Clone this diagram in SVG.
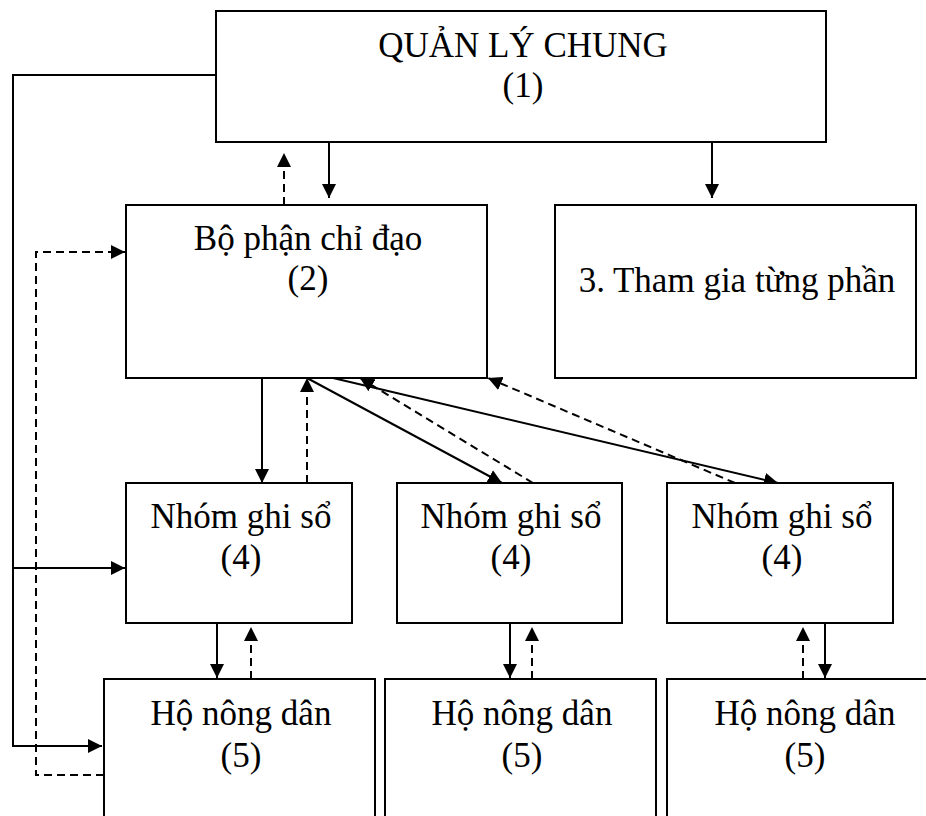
<svg xmlns="http://www.w3.org/2000/svg" width="926" height="816" viewBox="0 0 926 816">
<style>
.box{fill:#fff;stroke:#000;stroke-width:2}
.t{font-family:"Liberation Serif","Times New Roman",serif;font-size:35px;fill:#000;text-anchor:middle}
.s{fill:none;stroke:#000;stroke-width:2}
.d{fill:none;stroke:#000;stroke-width:2;stroke-dasharray:8 5}
.a{marker-end:url(#arr)}
</style>
<defs>
<marker id="arr" viewBox="0 0 14 14" refX="14" refY="7" markerWidth="14" markerHeight="14" markerUnits="userSpaceOnUse" orient="auto">
<path d="M0,0 L14,7 L0,14 z" fill="#000" stroke="none"/>
</marker>
</defs>
<rect width="926" height="816" fill="#fff"/>
<g id="connectors">
<polyline class="s" points="216,75 13,75 13,746 102,746" marker-end="url(#arr)"/>
<line class="s a" x1="13" y1="568" x2="125" y2="568"/>
<polyline class="d" points="104,775 36,775 36,252 125,252" marker-end="url(#arr)"/>
<line class="d a" x1="284" y1="205" x2="284" y2="153"/>
<line class="s a" x1="329" y1="143" x2="329" y2="198"/>
<line class="s a" x1="712" y1="143" x2="712" y2="198"/>
<line class="s a" x1="262" y1="378" x2="262" y2="483"/>
<line class="d a" x1="307" y1="483" x2="307" y2="378"/>
<line class="s a" x1="307" y1="378" x2="502" y2="483"/>
<line class="d a" x1="533" y1="483" x2="360" y2="378"/>
<line class="s a" x1="333" y1="378" x2="778" y2="483"/>
<line class="d a" x1="735" y1="483" x2="488" y2="378"/>
<line class="s a" x1="217" y1="623" x2="217" y2="678"/>
<line class="d a" x1="251" y1="679" x2="251" y2="627"/>
<line class="s a" x1="510" y1="623" x2="510" y2="678"/>
<line class="d a" x1="532" y1="679" x2="532" y2="627"/>
<line class="d a" x1="803" y1="679" x2="803" y2="627"/>
<line class="s a" x1="825" y1="623" x2="825" y2="678"/>
</g>
<g id="n1">
<rect class="box" x="216" y="11" width="610" height="131"/>
<text class="t" x="523" y="57">QUẢN LÝ CHUNG</text>
<text class="t" x="523" y="97">(1)</text>
</g>
<g id="n2">
<rect class="box" x="126" y="205" width="361" height="173"/>
<text class="t" x="308" y="250">Bộ phận chỉ đạo</text>
<text class="t" x="308" y="290">(2)</text>
</g>
<g id="n3">
<rect class="box" x="555" y="205" width="361" height="173"/>
<text class="t" x="737" y="292">3. Tham gia từng phần</text>
</g>
<g id="n4a">
<rect class="box" x="126" y="483" width="226" height="140"/>
<text class="t" x="241" y="528">Nhóm ghi sổ</text>
<text class="t" x="241" y="569">(4)</text>
</g>
<g id="n4b">
<rect class="box" x="397" y="483" width="225" height="140"/>
<text class="t" x="511" y="528">Nhóm ghi sổ</text>
<text class="t" x="511" y="569">(4)</text>
</g>
<g id="n4c">
<rect class="box" x="667" y="483" width="226" height="140"/>
<text class="t" x="782" y="528">Nhóm ghi sổ</text>
<text class="t" x="782" y="569">(4)</text>
</g>
<g id="n5a">
<rect class="box" x="104" y="679" width="271" height="160"/>
<text class="t" x="241" y="725">Hộ nông dân</text>
<text class="t" x="241" y="767">(5)</text>
</g>
<g id="n5b">
<rect class="box" x="385" y="679" width="271" height="160"/>
<text class="t" x="522" y="725">Hộ nông dân</text>
<text class="t" x="522" y="767">(5)</text>
</g>
<g id="n5c">
<rect class="box" x="667" y="679" width="276" height="160"/>
<text class="t" x="805" y="725">Hộ nông dân</text>
<text class="t" x="805" y="767">(5)</text>
</g>
</svg>
